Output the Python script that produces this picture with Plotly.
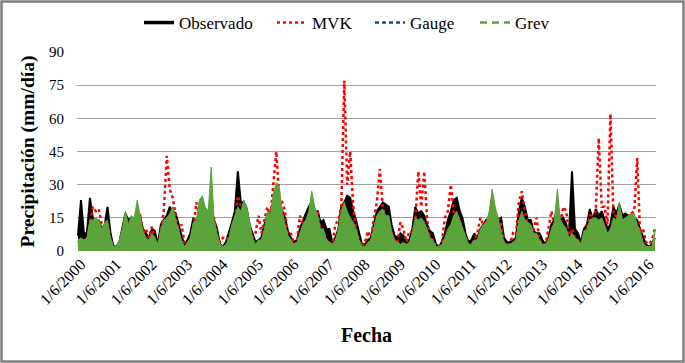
import pandas as pd
import plotly.graph_objects as go

# Monthly envelope values (mm/día), May 2000 .. Aug 2016
observado = [
    7, 23, 8, 8, 24, 15, 12, 14,
    10, 12, 20, 8, 2, 2, 4, 10, 17, 14, 15, 14,
    16, 15, 10, 8, 6, 10, 9, 3, 12, 14, 16, 20,
    18, 17, 12, 7, 3, 5, 8, 15, 13, 17, 18, 16,
    17, 16, 14, 10, 3, 2, 4, 8, 13, 18, 36, 22,
    22, 19, 12, 8, 4, 5, 6, 12, 16, 17, 22, 24,
    22, 18, 15, 9, 6, 4, 5, 10, 14, 17, 20, 22,
    18, 18, 13, 14, 10, 10, 4, 6, 10, 20, 22, 25,
    24, 18, 14, 8, 3, 3, 5, 6, 12, 18, 20, 22,
    21, 20, 12, 7, 6, 8, 7, 5, 5, 10, 20, 17,
    18, 16, 12, 9, 8, 3, 2, 4, 8, 14, 18, 23,
    24, 18, 15, 8, 4, 5, 8, 6, 10, 12, 14, 15,
    18, 16, 14, 15, 6, 4, 4, 5, 6, 18, 24, 20,
    14, 14, 9, 8, 8, 5, 3, 6, 12, 14, 20, 14,
    15, 12, 8, 36, 10, 8, 4, 10, 12, 19, 14, 19,
    16, 18, 14, 10, 12, 20, 17, 21, 16, 17, 16, 16,
    15, 14, 10, 6, 3, 2, 3, 6,
]
mvk = [
    4, 5, 4, 5, 12, 20, 18, 19,
    12, 12, 13, 5, 2, 2, 4, 8, 14, 12, 14, 13,
    15, 16, 8, 10, 6, 11, 5, 3, 9, 18, 43, 28,
    24, 15, 9, 12, 4, 3, 5, 11, 22, 16, 18, 15,
    16, 16, 15, 7, 4, 6, 5, 6, 10, 14, 25, 20,
    18, 16, 11, 6, 8, 16, 8, 14, 20, 15, 30, 45,
    24, 22, 18, 6, 8, 3, 4, 16, 12, 13, 16, 20,
    17, 18, 9, 9, 5, 4, 3, 12, 14, 20, 77, 30,
    45, 20, 10, 5, 2, 4, 9, 5, 15, 22, 37, 20,
    15, 14, 8, 5, 4, 13, 10, 4, 9, 8, 14, 36,
    20, 36, 15, 6, 5, 2, 2, 4, 15, 18, 30, 18,
    16, 13, 10, 6, 3, 3, 5, 8, 15, 12, 13, 14,
    18, 17, 16, 12, 4, 3, 3, 8, 7, 22, 27, 18,
    12, 10, 10, 15, 5, 3, 3, 10, 18, 12, 18, 12,
    20, 18, 7, 10, 6, 5, 3, 8, 10, 16, 16, 18,
    51, 20, 20, 12, 62, 16, 16, 18, 14, 14, 14, 17,
    18, 42, 8, 10, 4, 3, 5, 10,
]
gauge = [
    4, 5, 4, 5, 12, 13, 13, 12,
    9, 11, 12, 5, 2, 2, 4, 9, 15, 11, 14, 13,
    19, 13, 8, 5, 4, 7, 5, 2, 9, 12, 14, 16,
    17, 13, 9, 4, 2, 3, 5, 11, 13, 20, 22, 18,
    16, 30, 12, 7, 2, 2, 3, 5, 11, 15, 18, 17,
    20, 18, 11, 5, 3, 4, 4, 9, 16, 14, 24, 29,
    26, 16, 11, 6, 4, 3, 3, 7, 11, 13, 16, 24,
    18, 15, 9, 9, 4, 3, 2, 4, 9, 16, 20, 17,
    14, 12, 9, 4, 2, 2, 3, 4, 9, 15, 17, 17,
    15, 14, 8, 4, 3, 3, 3, 3, 4, 7, 14, 13,
    13, 12, 9, 5, 4, 2, 2, 3, 5, 9, 11, 15,
    16, 13, 10, 5, 3, 3, 4, 4, 9, 11, 12, 16,
    24, 18, 13, 9, 3, 3, 3, 4, 5, 13, 16, 13,
    12, 11, 7, 7, 4, 3, 2, 5, 9, 12, 24, 13,
    11, 9, 5, 7, 5, 4, 3, 8, 9, 13, 14, 14,
    13, 14, 11, 7, 9, 14, 13, 19, 13, 14, 15, 15,
    15, 11, 8, 4, 2, 2, 2, 8,
]
grev = [
    5, 6, 5, 6, 14, 14, 15, 14,
    10, 13, 14, 6, 2, 2, 5, 10, 18, 12, 16, 15,
    23, 15, 9, 6, 5, 8, 6, 3, 10, 14, 15, 17,
    20, 14, 10, 5, 2, 4, 6, 13, 14, 23, 25, 20,
    18, 38, 14, 8, 3, 2, 3, 6, 12, 16, 20, 18,
    23, 20, 13, 6, 3, 5, 5, 10, 18, 16, 26, 31,
    29, 18, 12, 7, 5, 3, 4, 8, 12, 14, 18, 27,
    20, 16, 10, 10, 5, 4, 3, 5, 10, 18, 22, 18,
    15, 13, 10, 5, 2, 2, 4, 5, 10, 16, 18, 19,
    16, 16, 9, 5, 4, 3, 4, 3, 4, 8, 15, 14,
    15, 13, 10, 6, 5, 2, 2, 3, 6, 10, 12, 16,
    18, 14, 11, 6, 3, 3, 5, 5, 10, 12, 13, 18,
    28, 20, 15, 10, 4, 3, 3, 4, 5, 14, 18, 14,
    13, 12, 8, 8, 5, 3, 3, 5, 10, 13, 28, 14,
    12, 10, 6, 8, 6, 5, 3, 9, 10, 14, 15, 15,
    14, 15, 12, 8, 10, 15, 14, 22, 14, 15, 16, 17,
    17, 12, 9, 4, 2, 2, 2, 10,
]
fechas = pd.date_range("2000-05-01", periods=len(observado), freq="MS")
tick_years = list(range(2000, 2017))
tick_vals = [f"{y}-06-01" for y in tick_years]
tick_text = [f"1/6/{y}" for y in tick_years]
y_ticks = [0, 15, 30, 45, 60, 75, 90]

BLACK = "#000000"
RED = "#FF0000"
BLUE = "#1F4E79"
GREEN = "#5BA33B"
FONT = "Liberation Serif, Times New Roman, serif"

W, H = 685, 363
L, R, T, B = 77, 29, 52, 112
pw, ph = W - L - R, H - T - B

fig = go.Figure()
fig.add_trace(go.Scatter(x=fechas, y=observado, mode="lines", fill="tozeroy",
                         fillcolor=BLACK, line=dict(color=BLACK, width=2),
                         showlegend=False, hoverinfo="skip"))
fig.add_trace(go.Scatter(x=fechas, y=mvk, mode="lines",
                         line=dict(color=RED, width=2.5, dash="dot"),
                         showlegend=False, hoverinfo="skip"))
fig.add_trace(go.Scatter(x=fechas, y=gauge, mode="lines", fill="tozeroy",
                         fillcolor=BLUE, line=dict(color=BLUE, width=1),
                         showlegend=False, hoverinfo="skip"))
fig.add_trace(go.Scatter(x=fechas, y=grev, mode="lines", fill="tozeroy",
                         fillcolor=GREEN, line=dict(color=GREEN, width=1),
                         showlegend=False, hoverinfo="skip"))

# legend entries, one legend box each so they can be spaced like the original
legend_items = [
    ("Observado", dict(color=BLACK, width=3.5), "legend", 139),
    ("MVK", dict(color=RED, width=2.5, dash="dot"), "legend2", 272),
    ("Gauge", dict(color=BLUE, width=2.5, dash="4px,3px"), "legend3", 370),
    ("Grev", dict(color=GREEN, width=2.5, dash="7px,5px"), "legend4", 475),
]
legend_layout = {}
for name, line, lg, px in legend_items:
    fig.add_trace(go.Scatter(x=[None], y=[None], mode="lines", name=name,
                             line=line, legend=lg))
    legend_layout[lg] = dict(orientation="h", x=(px - L) / pw, xanchor="left",
                             y=1.0 + 47 / ph, yanchor="top",
                             font=dict(size=17, family=FONT), itemwidth=30,
                             bgcolor="rgba(0,0,0,0)")

fig.update_layout(
    width=W, height=H,
    margin=dict(l=L, r=R, t=T, b=B, autoexpand=False),
    paper_bgcolor="white", plot_bgcolor="white",
    font=dict(family=FONT, color="#000000", size=14),
    xaxis=dict(type="date", range=["2000-04-21", "2016-08-12"],
               tickmode="array", tickvals=tick_vals, ticktext=tick_text,
               tickangle=-45, showgrid=False, zeroline=False, showline=False,
               ticks="", automargin=False, tickfont=dict(size=16, family=FONT),
               title=dict(text="<b>Fecha</b>", font=dict(size=20, family=FONT),
                          standoff=20)),
    yaxis=dict(range=[0, 90], tickmode="array", tickvals=y_ticks,
               showgrid=True, gridcolor="#A0A0A0", gridwidth=1.3,
               zeroline=False, showline=False, ticks="", automargin=False,
               ticklabelstandoff=12, tickfont=dict(size=15, family=FONT),
               title=dict(text="<b>Precipitación (mm/día)</b>",
                          font=dict(size=19.5, family=FONT), standoff=9)),
    shapes=[dict(type="rect", xref="paper", yref="paper",
                 x0=-(L - 1.5) / pw, x1=1 + (R - 1.5) / pw,
                 y0=-(B - 1.5) / ph, y1=1 + (T - 1.5) / ph,
                 line=dict(color="#808080", width=2.5))],
    **legend_layout,
)

fig.write_html("out.html", config={"displayModeBar": False},
               post_script="document.body.style.margin='0px';")
